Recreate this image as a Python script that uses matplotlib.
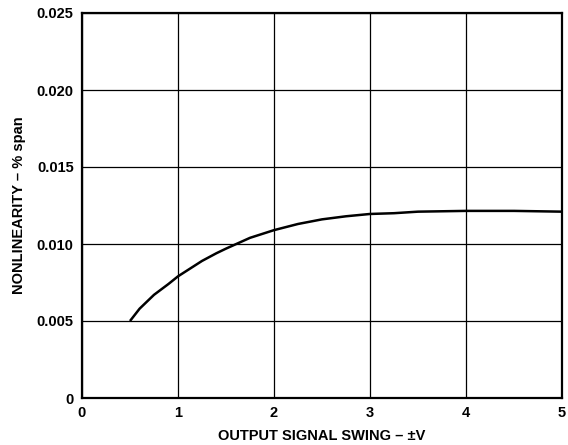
import matplotlib
matplotlib.use("Agg")
import matplotlib.pyplot as plt

x_vals = [0.5, 0.6, 0.75, 0.9, 1.0, 1.1, 1.25, 1.4, 1.5, 1.75, 2.0, 2.25, 2.5, 2.75, 3.0, 3.25, 3.5, 4.0, 4.5, 5.0]
y_vals = [0.0050, 0.0058, 0.0067, 0.0074, 0.0079, 0.0083, 0.0089, 0.0094, 0.0097, 0.0104, 0.0109, 0.0113, 0.0116, 0.0118, 0.01195, 0.0120, 0.01210, 0.01215, 0.01215, 0.0121]
x_ticks = [0, 1, 2, 3, 4, 5]
y_ticks = [0, 0.005, 0.010, 0.015, 0.020, 0.025]
y_tick_labels = ["0", "0.005", "0.010", "0.015", "0.020", "0.025"]

plt.rcParams['font.family'] = ['Liberation Sans', 'DejaVu Sans']
plt.rcParams['font.weight'] = 'bold'

fig = plt.figure(figsize=(5.68, 4.45), dpi=100)
ax = fig.add_axes([82/568, 1-398/445, 480/568, 385/445])

ax.plot(x_vals, y_vals, color='black', linewidth=1.8, solid_capstyle='butt')

ax.set_xlim(0, 5)
ax.set_ylim(0, 0.025)
ax.set_xticks(x_ticks)
ax.set_xticklabels([str(t) for t in x_ticks])
ax.set_yticks(y_ticks)
ax.set_yticklabels(y_tick_labels)
ax.grid(True, color='black', linewidth=0.9)
ax.set_axisbelow(True)
ax.tick_params(length=0, labelsize=10.5, pad=6)
for s in ax.spines.values():
    s.set_linewidth(1.6)
    s.set_color('black')

ax.set_xlabel("OUTPUT SIGNAL SWING – ±V", fontsize=10.5, fontweight='bold', labelpad=6)
ax.set_ylabel("NONLINEARITY – % span", fontsize=10.5, fontweight='bold', labelpad=8)

fig.savefig("out.png", dpi=100)
